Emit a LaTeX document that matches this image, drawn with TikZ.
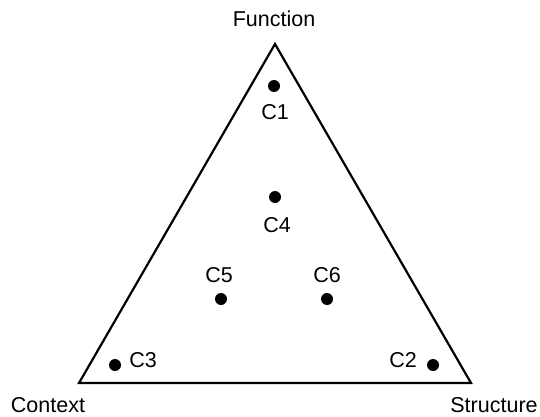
\documentclass[tikz,border=0pt]{standalone}
\usepackage{fontspec}
\setmainfont{Liberation Sans}
\begin{document}
\begin{tikzpicture}[x=1pt,y=-1pt,
  lbl/.style={font=\fontsize{21.5}{24}\selectfont, inner sep=0pt},
  dot/.style={circle, fill=black, minimum size=12pt, inner sep=0pt}]
\useasboundingbox (0,0) rectangle (540,417);
\coordinate (F) at (275,44);
\coordinate (L) at (79,383);
\coordinate (R) at (471,383);
\draw[line width=2.2pt, line join=miter] (F) -- (L) -- (R) -- cycle;
\node[lbl] (tF) at (274,19) {Function};
\node[lbl] (tC) at (48,405) {Context};
\node[lbl] (tS) at (494,405) {Structure};
\node[dot] (d1) at (274,86) {};
\node[lbl] (c1) at (275,112) {C1};
\node[dot] (d4) at (275,197) {};
\node[lbl] (c4) at (277,225) {C4};
\node[dot] (d5) at (221,299) {};
\node[lbl] (c5) at (219,275) {C5};
\node[dot] (d6) at (327,299) {};
\node[lbl] (c6) at (327,275) {C6};
\node[dot] (d3) at (115,365) {};
\node[lbl] (c3) at (143,360) {C3};
\node[dot] (d2) at (433,365) {};
\node[lbl] (c2) at (403,360) {C2};
\end{tikzpicture}
\end{document}
